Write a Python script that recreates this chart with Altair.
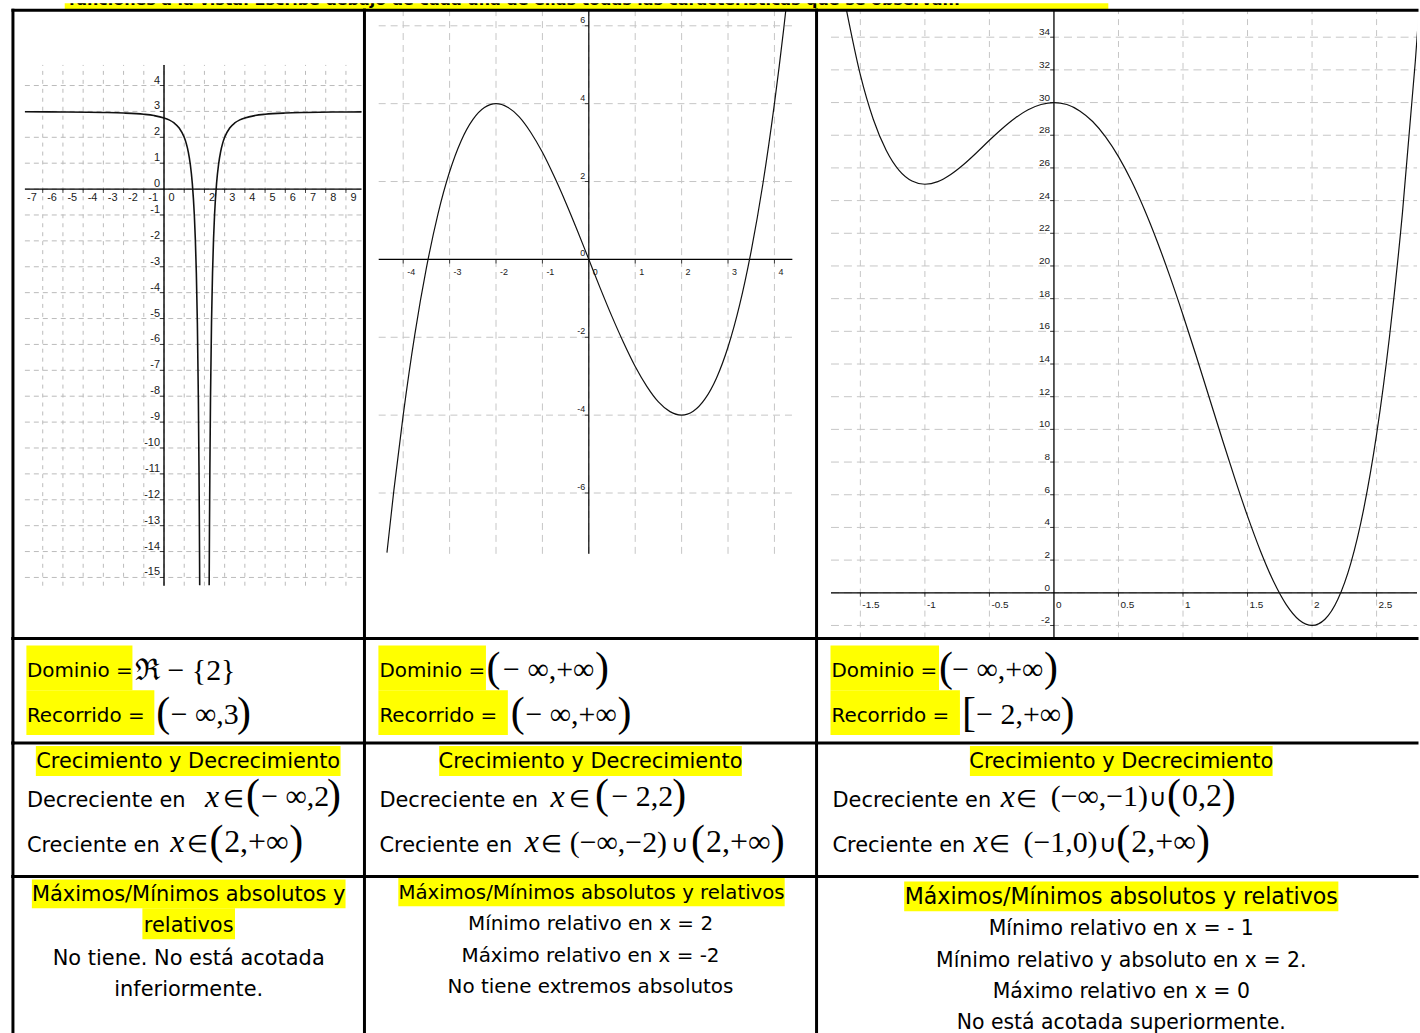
import altair as alt
import pandas as pd

SANS = "DejaVu Sans"
SERIF = "Liberation Serif"
TICK_FONT = "Liberation Sans"
YELLOW = "#ffff00"

# ---------------------------------------------------------------
# Sampled curves
# f1: vertical asymptote at x = 2, horizontal asymptote y = 3
f1_left_x = [-6.88, -5.0, -3.0, -2.0, -1.0, -0.5, 0.0, 0.25, 0.5, 0.75, 1.0, 1.1,
             1.2, 1.3, 1.4, 1.5, 1.55, 1.6, 1.65, 1.7, 1.73, 1.75, 1.766]
f1_left_y = [2.987, 2.98, 2.96, 2.938, 2.889, 2.84, 2.75, 2.673, 2.556, 2.36, 2.0, 1.765,
             1.438, 0.959, 0.222, -1.0, -1.938, -3.25, -5.163, -8.11, -10.72, -13.0, -15.3]
f1_right_x = [2.234, 2.25, 2.27, 2.3, 2.35, 2.4, 2.45, 2.5, 2.6, 2.7, 2.8, 2.9,
              3.0, 3.25, 3.5, 3.75, 4.0, 4.5, 5.0, 6.0, 7.0, 8.5, 9.77]
f1_right_y = [-15.3, -13.0, -10.72, -8.11, -5.163, -3.25, -1.938, -1.0, 0.222, 0.959, 1.438, 1.765,
              2.0, 2.36, 2.556, 2.673, 2.75, 2.84, 2.889, 2.938, 2.96, 2.976, 2.983]

# f2: cubic, maximum at (-2, 4), minimum at (2, -4)
f2_x = [-4.35, -4.2, -4.0, -3.75, -3.5, -3.25, -3.0, -2.75, -2.5, -2.25,
        -2.0, -1.75, -1.5, -1.25, -1.0, -0.75, -0.5, -0.25, 0.0, 0.25,
        0.5, 0.75, 1.0, 1.25, 1.5, 1.75, 2.0, 2.25, 2.5, 2.75,
        3.0, 3.25, 3.5, 3.75, 4.0, 4.1, 4.2, 4.3]
f2_y = [-7.53, -5.92, -4.0, -1.93, -0.22, 1.17, 2.25, 3.05, 3.59, 3.90,
        4.0, 3.91, 3.66, 3.26, 2.75, 2.14, 1.47, 0.75, 0.0, -0.75,
        -1.47, -2.14, -2.75, -3.26, -3.66, -3.91, -4.0, -3.90, -3.59, -3.05,
        -2.25, -1.17, 0.22, 1.93, 4.0, 4.93, 5.92, 6.98]

# f3: quartic, minima at (-1, 25) and (2, -2), maximum at (0, 30)
f3_x = [-1.61, -1.5, -1.4, -1.3, -1.2, -1.1, -1.0, -0.9, -0.8, -0.7, -0.6, -0.5,
        -0.4, -0.3, -0.2, -0.1, 0.0, 0.1, 0.2, 0.3, 0.4, 0.5, 0.6, 0.7, 0.8, 0.9,
        1.0, 1.1, 1.2, 1.3, 1.4, 1.5, 1.6, 1.7, 1.8, 1.9, 2.0, 2.1, 2.2, 2.3,
        2.4, 2.5, 2.6, 2.7, 2.8, 2.85]
f3_y = [35.75, 31.69, 28.98, 27.08, 25.85, 25.20, 25.0, 25.16, 25.60, 26.21, 26.93, 27.69,
        28.41, 29.05, 29.56, 29.88, 30.0, 29.88, 29.49, 28.84, 27.90, 26.69, 25.21, 23.47, 21.50, 19.33,
        17.0, 14.55, 12.03, 9.50, 7.03, 4.69, 2.56, 0.72, -0.72, -1.66, -2.0, -1.62, -0.40, 1.80,
        5.12, 9.69, 15.67, 23.22, 32.51, 37.86]

# ---------------------------------------------------------------
# Grids and tick labels
f1_xgrid = list(range(-6, 10))
f1_ygrid = list(range(-15, 5))
f1_xlab = [-7, -6, -5, -4, -3, -2, -1, 0, 2, 3, 4, 5, 6, 7, 8, 9]
f1_ylab = list(range(4, -16, -1))
f1_xtick = [v for v in range(-6, 10) if v != 0]
f1_ytick = [v for v in range(-15, 5) if v != 0]

f2_xgrid = list(range(-4, 5))
f2_ygrid = [-6, -4, -2, 2, 4, 6]
f2_xlab = [-4, -3, -2, -1, 0, 1, 2, 3, 4]
f2_ylab = [6, 4, 2, 0, -2, -4, -6]
f2_xtick = [-4, -3, -2, -1, 1, 2, 3, 4]
f2_ytick = [-6, -4, -2, 2, 4, 6]

f3_xgrid = [-1.5, -1.0, -0.5, 0.5, 1.0, 1.5, 2.0, 2.5]
f3_ygrid = list(range(-2, 36, 2))
f3_xlab = [-1.5, -1.0, -0.5, 0.0, 0.5, 1.0, 1.5, 2.0, 2.5]
f3_xlab_txt = ["-1.5", "-1", "-0.5", "0", "0.5", "1", "1.5", "2", "2.5"]
f3_ylab = list(range(34, -4, -2))
f3_xtick = [-1.5, -1.0, -0.5, 0.5, 1.0, 1.5, 2.0, 2.5]
f3_ytick = [v for v in range(-2, 36, 2) if v != 0]

# ---------------------------------------------------------------
# Table layout (pixels)
COL_X = [10, 363, 817]
COL_W = [353, 454, 603]
ROW_Y = [7, 638, 743, 877]
ROW_H = [631, 105, 134, 156]
ONE = pd.DataFrame({"k": [0]})


def borders(w, h):
    top = alt.Chart(ONE).mark_rule(color="black", strokeWidth=3, strokeCap="square").encode(
        x=alt.value(0), x2=alt.value(w), y=alt.value(0))
    left = alt.Chart(ONE).mark_rule(color="black", strokeWidth=3, strokeCap="square").encode(
        x=alt.value(0), y=alt.value(0), y2=alt.value(h))
    return [top, left]


def graph_cell(ci, origin, unit, frame, curves, xgrid, ygrid, xlab, xlab_txt,
               ylab, xtick, ytick, st):
    x0, w = COL_X[ci], COL_W[ci]
    y0, h = ROW_Y[0], ROW_H[0]
    ox, oy = origin
    ux, uy = unit
    xdom = [(x0 - ox) / ux, (x0 + w - ox) / ux]
    ydom = [(oy - (y0 + h)) / uy, (oy - y0) / uy]
    fx1, fy1, fx2, fy2 = frame
    xa, xb = (fx1 - ox) / ux, (fx2 - ox) / ux
    ya, yb = (oy - fy2) / uy, (oy - fy1) / uy

    xs = alt.Scale(domain=xdom, nice=False, zero=False)
    ys = alt.Scale(domain=ydom, nice=False, zero=False)

    def X(f):
        return alt.X(f + ":Q", scale=xs, axis=None)

    def Y(f):
        return alt.Y(f + ":Q", scale=ys, axis=None)

    vg = pd.DataFrame({"x": xgrid, "y": [ya] * len(xgrid), "y2": [yb] * len(xgrid)})
    hg = pd.DataFrame({"y": ygrid, "x": [xa] * len(ygrid), "x2": [xb] * len(ygrid)})
    grid_v = alt.Chart(vg).mark_rule(color=st["grid"], strokeWidth=1, strokeDash=st["vdash"]).encode(
        x=X("x"), y=Y("y"), y2="y2")
    grid_h = alt.Chart(hg).mark_rule(color=st["grid"], strokeWidth=1, strokeDash=st["hdash"]).encode(
        y=Y("y"), x=X("x"), x2="x2")

    ax = pd.DataFrame({"x": [xa, 0.0], "x2": [xb, 0.0], "y": [0.0, ya], "y2": [0.0, yb]})
    axes = alt.Chart(ax).mark_rule(color="black", strokeWidth=st["axw"]).encode(
        x=X("x"), x2="x2", y=Y("y"), y2="y2")

    xt = pd.DataFrame({"x": xtick, "y": [0.0] * len(xtick)})
    yt = pd.DataFrame({"y": ytick, "x": [0.0] * len(ytick)})
    xticks = alt.Chart(xt).mark_tick(orient="vertical", size=4, thickness=1, color="black",
                                     yOffset=2).encode(x=X("x"), y=Y("y"))
    yticks = alt.Chart(yt).mark_tick(orient="horizontal", size=4, thickness=1, color="black",
                                     xOffset=-2).encode(x=X("x"), y=Y("y"))

    xl = pd.DataFrame({"x": xlab, "y": [0.0] * len(xlab), "t": xlab_txt})
    yl = pd.DataFrame({"y": ylab, "x": [0.0] * len(ylab), "t": [str(v) for v in ylab]})
    xlabels = alt.Chart(xl).mark_text(align="left", baseline="top", dx=st["xdx"], dy=st["xdy"],
                                      font=TICK_FONT, fontSize=st["fs"], color="#1a1a1a").encode(
        x=X("x"), y=Y("y"), text="t:N")
    ylabels = alt.Chart(yl).mark_text(align="right", baseline="alphabetic", dx=st["ydx"], dy=st["ydy"],
                                      font=TICK_FONT, fontSize=st["fs"], color="#1a1a1a").encode(
        x=X("x"), y=Y("y"), text="t:N")

    frames = []
    for b, (cx, cy) in enumerate(curves):
        frames.append(pd.DataFrame({"x": cx, "y": cy, "b": [b] * len(cx)}))
    cdf = pd.concat(frames, ignore_index=True)
    curve = alt.Chart(cdf).mark_line(clip=True, interpolate="monotone", color="#111111",
                                     strokeWidth=st["cw"]).encode(
        x=X("x"), y=Y("y"), detail="b:N")

    layers = [grid_v, grid_h, axes, xticks, yticks, xlabels, ylabels, curve] + borders(w, h)
    return alt.layer(*layers).properties(width=w, height=h)


STYLES = {
    "L": (SANS, "normal", "left"),
    "C": (SANS, "normal", "center"),
    "M": (SERIF, "normal", "center"),
    "I": (SERIF, "italic", "center"),
}


def text_cell(ri, ci, highlights, items):
    x0, w = COL_X[ci], COL_W[ci]
    y0, h = ROW_Y[ri], ROW_H[ri]
    layers = []
    if highlights:
        hdf = pd.DataFrame([{"x": a - x0, "y": b - y0, "x2": c - x0, "y2": d - y0}
                            for a, b, c, d in highlights])
        layers.append(alt.Chart(hdf).mark_rect(color=YELLOW).encode(
            x=alt.X("x:Q", scale=None, axis=None), x2="x2",
            y=alt.Y("y:Q", scale=None, axis=None), y2="y2"))
    tdf = pd.DataFrame([{"t": t, "x": x - x0, "y": y - y0, "st": s, "s": size}
                        for t, x, y, s, size in items])
    for key in ["L", "C", "M", "I"]:
        grp = tdf[tdf["st"] == key]
        if grp.empty:
            continue
        font, fstyle, align = STYLES[key]
        layers.append(alt.Chart(grp).mark_text(
            font=font, fontStyle=fstyle, align=align, baseline="alphabetic", color="black").encode(
            x=alt.X("x:Q", scale=None, axis=None),
            y=alt.Y("y:Q", scale=None, axis=None),
            text="t:N",
            size=alt.Size("s:Q", scale=None, legend=None)))
    layers += borders(w, h)
    return alt.layer(*layers).properties(width=w, height=h)


# ---------------------------------------------------------------
# Graph row
g1 = graph_cell(0, (161.7, 186.7), (20.3, 26.0), (22, 62, 360, 585),
                [(f1_left_x, f1_left_y), (f1_right_x, f1_right_y)],
                f1_xgrid, f1_ygrid, f1_xlab, [str(v) for v in f1_xlab], f1_ylab,
                f1_xtick, f1_ytick,
                dict(grid="#bababa", vdash=[4, 5], hdash=[5, 4], axw=1.4, cw=1.6, fs=11,
                     xdx=4.5, xdy=2.5, ydx=-4, ydy=-2))
g2 = graph_cell(1, (588.3, 257.3), (46.6, 39.1), (377.3, 7, 792.7, 553),
                [(f2_x, f2_y)],
                f2_xgrid, f2_ygrid, f2_xlab, [str(v) for v in f2_xlab], f2_ylab,
                f2_xtick, f2_ytick,
                dict(grid="#c6c6c6", vdash=[7, 5], hdash=[7, 5], axw=1.2, cw=1.2, fs=9,
                     xdx=4, xdy=8.5, ydx=-3.5, ydy=-3))
g3 = graph_cell(2, (1055.4, 592.1), (129.6, 16.41), (831.5, 7, 1420, 638),
                [(f3_x, f3_y)],
                f3_xgrid, f3_ygrid, f3_xlab, f3_xlab_txt, f3_ylab,
                f3_xtick, f3_ytick,
                dict(grid="#c6c6c6", vdash=[6, 5], hdash=[8, 5], axw=1.3, cw=1.2, fs=10,
                     xdx=2, xdy=7, ydx=-4, ydy=-2))

# ---------------------------------------------------------------
# Dominio / Recorrido row
r2 = [
    text_cell(1, 0, [(23.5, 645, 130, 690), (23.5, 690, 152, 735)], [
        ("Dominio =", 24, 677, "L", 20),
        ("ℜ − {2}", 183, 680, "M", 30),
        ("Recorrido =", 24, 722, "L", 20),
        ("(", 161, 726, "M", 42),
        ("− ∞,3", 202.5, 724, "M", 30),
        (")", 242, 726, "M", 42),
    ]),
    text_cell(1, 1, [(377, 645, 485, 690), (377, 690, 507, 735)], [
        ("Dominio =", 378, 677, "L", 20),
        ("(", 492.5, 681, "M", 42),
        ("− ∞,+∞", 548, 679, "M", 30),
        (")", 601.5, 681, "M", 42),
        ("Recorrido =", 378, 722, "L", 20),
        ("(", 517, 726, "M", 42),
        ("− ∞,+∞", 570.5, 724, "M", 30),
        (")", 624, 726, "M", 42),
    ]),
    text_cell(1, 2, [(831, 645, 940, 690), (831, 690, 961, 735)], [
        ("Dominio =", 832, 677, "L", 20),
        ("(", 947, 681, "M", 42),
        ("− ∞,+∞", 999, 679, "M", 30),
        (")", 1052.5, 681, "M", 42),
        ("Recorrido =", 832, 722, "L", 20),
        ("[", 970, 726, "M", 42),
        ("− 2,+∞", 1020, 724, "M", 30),
        (")", 1069, 726, "M", 42),
    ]),
]

# ---------------------------------------------------------------
# Crecimiento y Decrecimiento row
r3 = [
    text_cell(2, 0, [(33, 746, 339, 776)], [
        ("Crecimiento y Decrecimiento", 186, 768, "C", 21),
        ("Decreciente en", 24, 807, "L", 21),
        ("x", 210, 807, "I", 32),
        ("∈", 231, 807, "M", 24),
        ("(", 251, 808, "M", 42),
        ("− ∞,2", 293.5, 806, "M", 30),
        (")", 332.5, 808, "M", 42),
        ("Creciente en", 24, 852, "L", 21),
        ("x", 175, 852, "I", 32),
        ("∈", 195, 852, "M", 24),
        ("(", 214.5, 854, "M", 42),
        ("2,+∞", 254.5, 852, "M", 32),
        (")", 294.5, 854, "M", 42),
    ]),
    text_cell(2, 1, [(438, 746, 742, 776)], [
        ("Crecimiento y Decrecimiento", 590, 768, "C", 21),
        ("Decreciente en", 378, 807, "L", 21),
        ("x", 557, 807, "I", 32),
        ("∈", 579, 807, "M", 24),
        ("(", 601.5, 808, "M", 42),
        ("− 2,2", 642, 806, "M", 30),
        (")", 679, 808, "M", 42),
        ("Creciente en", 378, 852, "L", 21),
        ("x", 531, 852, "I", 32),
        ("∈", 551, 852, "M", 24),
        ("(−∞,−2)", 618, 852, "M", 30),
        ("∪", 680, 852, "M", 24),
        ("(", 698, 854, "M", 42),
        ("2,+∞", 738.5, 852, "M", 32),
        (")", 778, 854, "M", 42),
    ]),
    text_cell(2, 2, [(971, 746, 1275, 776)], [
        ("Crecimiento y Decrecimiento", 1123, 768, "C", 21),
        ("Decreciente en", 833, 807, "L", 21),
        ("x", 1009, 807, "I", 32),
        ("∈", 1028, 807, "M", 24),
        ("(−∞,−1)", 1101, 806, "M", 30),
        ("∪", 1160, 806, "M", 24),
        ("(", 1176, 808, "M", 42),
        ("0,2", 1204, 806, "M", 32),
        (")", 1231, 808, "M", 42),
        ("Creciente en", 833, 852, "L", 21),
        ("x", 982, 852, "I", 32),
        ("∈", 1001, 852, "M", 24),
        ("(−1,0)", 1062, 852, "M", 30),
        ("∪", 1110, 852, "M", 24),
        ("(", 1125, 854, "M", 42),
        ("2,+∞", 1165.5, 852, "M", 32),
        (")", 1205, 854, "M", 42),
    ]),
]

# ---------------------------------------------------------------
# Máximos / Mínimos row
r4 = [
    text_cell(3, 0, [(29, 880, 344, 909), (140, 909, 233, 940)], [
        ("Máximos/Mínimos absolutos y", 186.5, 902, "C", 21),
        ("relativos", 186.5, 933, "C", 21),
        ("No tiene. No está acotada", 186.5, 966, "C", 21),
        ("inferiormente.", 186.5, 997, "C", 21),
    ]),
    text_cell(3, 1, [(397, 878, 785, 907)], [
        ("Máximos/Mínimos absolutos y relativos", 591, 900, "C", 19.8),
        ("Mínimo relativo en x = 2", 590, 931, "C", 20),
        ("Máximo relativo en x = -2", 590, 963, "C", 20),
        ("No tiene extremos absolutos", 590, 994, "C", 20),
    ]),
    text_cell(3, 2, [(905, 882, 1341, 912)], [
        ("Máximos/Mínimos absolutos y relativos", 1123, 905, "C", 22.2),
        ("Mínimo relativo en x = - 1", 1123, 936, "C", 20.5),
        ("Mínimo relativo y absoluto en x = 2.", 1123, 968, "C", 20.5),
        ("Máximo relativo en x = 0", 1123, 999, "C", 20.5),
        ("No está acotada superiormente.", 1123, 1030, "C", 20.5),
    ]),
]

# ---------------------------------------------------------------
# Highlighted instruction line above the table (only its lower edge shows)
band_rect = pd.DataFrame({"x": [52], "x2": [1100], "y": [0], "y2": [6]})
band_txt = pd.DataFrame({"x": [56], "y": [2.0],
                         "t": ["funciones a la vista. Escribe debajo de cada una de ellas "
                               "todas las características que se observan."]})
band = alt.layer(
    alt.Chart(band_rect).mark_rect(color=YELLOW).encode(
        x=alt.X("x:Q", scale=None, axis=None), x2="x2",
        y=alt.Y("y:Q", scale=None, axis=None), y2="y2"),
    alt.Chart(band_txt).mark_text(clip=True, align="left", baseline="alphabetic", font=SANS,
                                  fontWeight="bold", fontSize=16, color="black").encode(
        x=alt.X("x:Q", scale=None, axis=None),
        y=alt.Y("y:Q", scale=None, axis=None),
        text="t:N"),
).properties(width=1410, height=7)

# 4 x 3 grid of cells, row by row
cells = [g1, g2, g3] + r2 + r3 + r4
table = alt.concat(*cells, columns=3, spacing=0, bounds="flush")

chart = alt.vconcat(band, table, spacing=0, bounds="flush").properties(
    padding={"left": 10, "top": 0, "right": 0, "bottom": 0},
    background="white",
).configure_view(stroke="transparent")

chart.save("out.html", embed_options={"renderer": "svg", "actions": False})
